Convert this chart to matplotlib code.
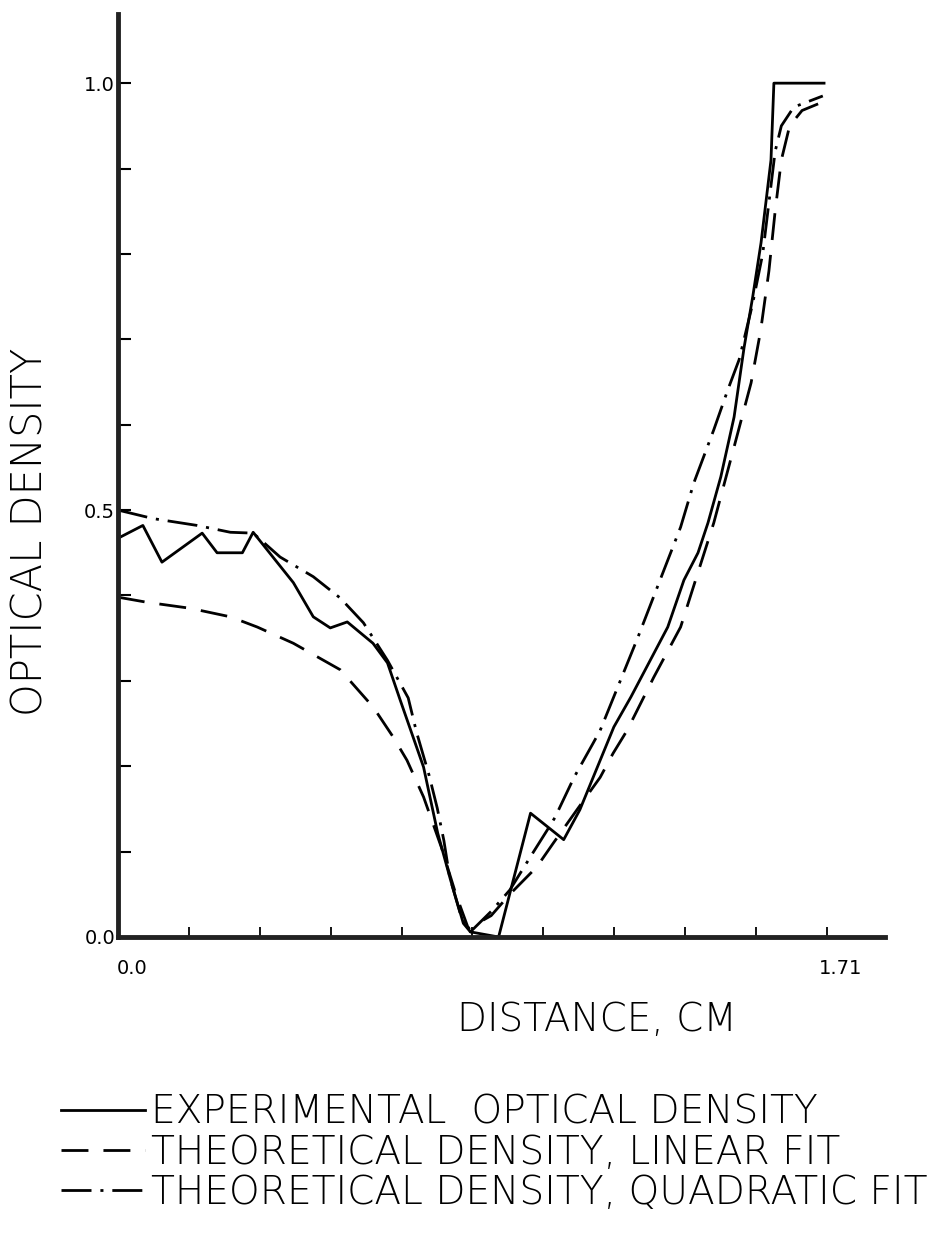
# Optical density profile: experiment vs. linear / quadratic fit

import numpy as np
import matplotlib.pyplot as plt
from matplotlib.transforms import ScaledTranslation

# experimental optical density (solid)
exp_x = [0.0, 0.060, 0.106, 0.203, 0.239, 0.300, 0.326, 0.423, 0.471, 0.512,
         0.553, 0.615, 0.650, 0.681, 0.737, 0.771, 0.802, 0.833, 0.850, 0.918,
         0.995, 1.075, 1.114, 1.196, 1.237, 1.326, 1.365, 1.399, 1.423, 1.454,
         1.486, 1.510, 1.531, 1.551, 1.575, 1.582, 1.703]
exp_y = [0.467, 0.482, 0.439, 0.473, 0.450, 0.450, 0.474, 0.415, 0.375, 0.362,
         0.369, 0.344, 0.321, 0.277, 0.199, 0.122, 0.067, 0.016, 0.006, 0.0,
         0.145, 0.114, 0.149, 0.246, 0.281, 0.363, 0.418, 0.450, 0.485, 0.539,
         0.609, 0.69, 0.75, 0.813, 0.91, 1.0, 1.0]

# theoretical density, linear fit (dashed)
lin_x = [0.0, 0.070, 0.174, 0.271, 0.336, 0.423, 0.536, 0.616, 0.664, 0.697,
         0.737, 0.78, 0.815, 0.845, 0.90, 0.945, 1.01, 1.05, 1.107, 1.163,
         1.194, 1.228, 1.292, 1.357, 1.437, 1.486, 1.527, 1.55, 1.57, 1.585,
         1.60, 1.62, 1.65, 1.70]
lin_y = [0.398, 0.392, 0.385, 0.375, 0.363, 0.344, 0.313, 0.269, 0.234, 0.207,
         0.164, 0.105, 0.05, 0.01, 0.025, 0.05, 0.082, 0.11, 0.149, 0.187,
         0.215, 0.242, 0.304, 0.363, 0.485, 0.574, 0.649, 0.71, 0.78, 0.85,
         0.91, 0.95, 0.968, 0.978]

# theoretical density, quadratic fit (dash-dot)
quad_x = [0.0, 0.085, 0.191, 0.271, 0.326, 0.391, 0.471, 0.536, 0.592, 0.650,
          0.70, 0.72, 0.75, 0.77, 0.786, 0.80, 0.83, 0.85, 0.90, 0.945,
          1.0, 1.035, 1.054, 1.10, 1.146, 1.163, 1.254, 1.309, 1.357, 1.389,
          1.437, 1.471, 1.498, 1.53, 1.555, 1.57, 1.585, 1.60, 1.63, 1.70]
quad_y = [0.50, 0.490, 0.482, 0.474, 0.473, 0.445, 0.422, 0.397, 0.368, 0.324,
          0.28, 0.24, 0.19, 0.151, 0.113, 0.07, 0.02, 0.006, 0.03, 0.055,
          0.098, 0.125, 0.14, 0.187, 0.227, 0.242, 0.351, 0.42, 0.48, 0.532,
          0.594, 0.641, 0.676, 0.74, 0.80, 0.86, 0.92, 0.95, 0.972, 0.985]

x_ticks = [0.0, 0.171, 0.342, 0.513, 0.684, 0.855, 1.026, 1.197, 1.368, 1.539, 1.71]
x_ticklabels = ['0.0', '', '', '', '', '', '', '', '', '', '1.71']
y_ticks = [0.0, 0.1, 0.2, 0.3, 0.4, 0.5, 0.6, 0.7, 0.8, 0.9, 1.0]
y_ticklabels = ['0.0', '', '', '', '', '0.5', '', '', '', '', '1.0']

labels = ['EXPERIMENTAL  OPTICAL DENSITY',
          'THEORETICAL DENSITY, LINEAR FIT',
          'THEORETICAL DENSITY, QUADRATIC FIT']

txt_font = ['DejaVu Sans']

fig = plt.figure(figsize=(9.47, 12.36), dpi=100)
ax = fig.add_axes([118/947, 1 - 937/1236, 767/947, 923/1236])

lw = 2.0
ax.plot(exp_x, exp_y, c='black', lw=lw, label=labels[0])
ax.plot(lin_x, lin_y, c='black', lw=lw, dashes=(9.7, 5.4), label=labels[1])
ax.plot(quad_x, quad_y, c='black', lw=lw, dashes=(10.8, 3.2, 1.1, 3.2), label=labels[2])

ax.set_xlim(0, 1.85)
ax.set_ylim(0, 1.081)

for side in ['top', 'right']:
    ax.spines[side].set_visible(False)
for side in ['left', 'bottom']:
    ax.spines[side].set_linewidth(3.5)
    ax.spines[side].set_color('#222222')

ax.set_xticks(x_ticks)
ax.set_xticklabels(x_ticklabels, fontsize=14)
ax.set_yticks(y_ticks)
ax.set_yticklabels(y_ticklabels, fontsize=14)
ax.tick_params(axis='x', direction='in', length=7, width=1.3, pad=16)
ax.tick_params(axis='y', direction='in', length=9, width=1.5, pad=2)

offset = ScaledTranslation(14/100, 0, fig.dpi_scale_trans)
for lbl in ax.get_xticklabels():
    lbl.set_transform(lbl.get_transform() + offset)

fig.text(30/947, 1 - 532/1236, 'OPTICAL DENSITY', rotation=90, ha='center', va='center',
         fontsize=30, family=txt_font, fontweight='light')
fig.text(597/947, 1 - 1020/1236, 'DISTANCE, CM', ha='center', va='center',
         fontsize=28, family=txt_font, fontweight='light')

fig.legend(loc='upper left', bbox_to_anchor=(26/947, 1 - 1058/1236), frameon=False,
           handlelength=2.15, handletextpad=0.15, labelspacing=0.06,
           prop={'family': txt_font, 'size': 28.2, 'weight': 'light'})

fig.savefig('out.png', dpi=100)
